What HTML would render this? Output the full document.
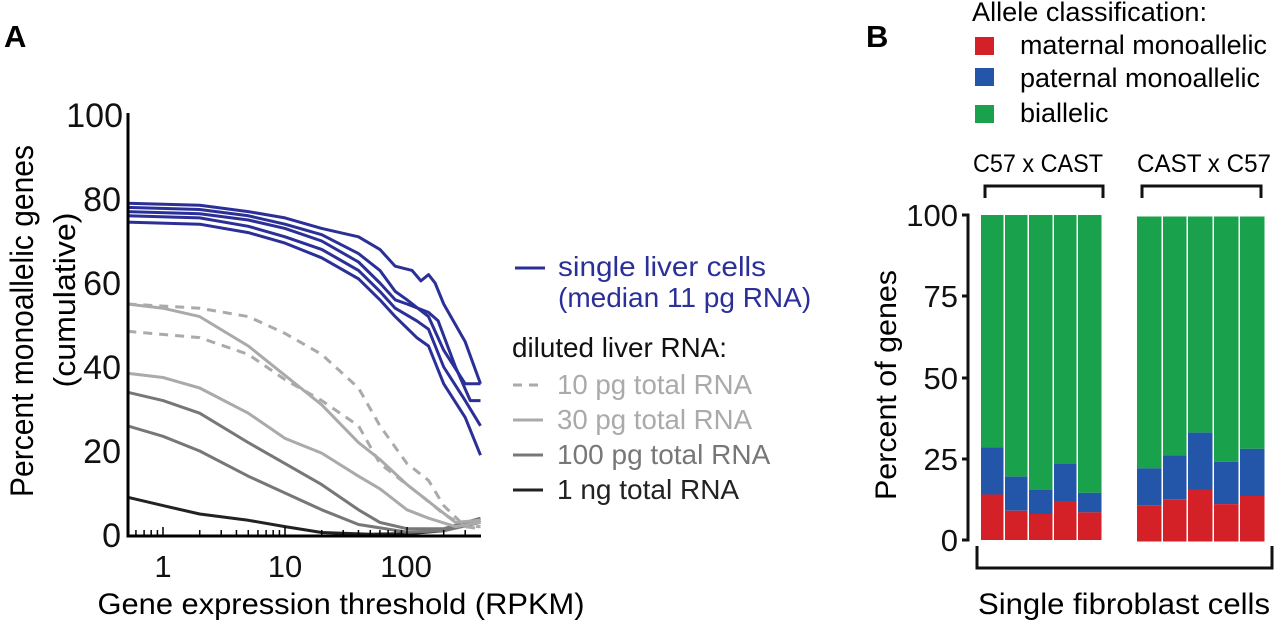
<!DOCTYPE html>
<html><head><meta charset="utf-8"><style>
html,body{margin:0;padding:0;background:#fff;}
svg{display:block;font-family:"Liberation Sans",Arial,sans-serif;}
</style></head><body>
<svg id="s" width="1280" height="620" viewBox="0 0 1280 620" xmlns="http://www.w3.org/2000/svg">
<text x="4" y="47" font-size="31" font-weight="bold">A</text>
<text x="866" y="47" font-size="31" font-weight="bold">B</text>
<g id="plotA"></g>
<line x1="128" y1="113" x2="128" y2="537" stroke="#000" stroke-width="3"/>
<line x1="126.5" y1="536" x2="481" y2="536" stroke="#000" stroke-width="3"/>
<g font-size="34" text-anchor="end" fill="#111">
<text x="121" y="547">0</text><text x="121" y="463">20</text><text x="121" y="379">40</text>
<text x="121" y="295">60</text><text x="121" y="211">80</text><text x="123" y="127">100</text>
</g>
<g font-size="31" text-anchor="middle" fill="#111">
<text x="163" y="577">1</text><text x="285" y="577">10</text><text x="406" y="577">100</text>
</g>
<text x="341" y="614" font-size="30" text-anchor="middle" textLength="487" lengthAdjust="spacingAndGlyphs">Gene expression threshold (RPKM)</text>
<text transform="translate(33,321) rotate(-90)" font-size="32" text-anchor="middle" textLength="352" lengthAdjust="spacingAndGlyphs">Percent monoallelic genes</text>
<text transform="translate(75,300) rotate(-90)" font-size="31" text-anchor="middle" textLength="175" lengthAdjust="spacingAndGlyphs">(cumulative)</text>
<line x1="515" y1="268" x2="545" y2="268" stroke="#2b2f98" stroke-width="3"/>
<text x="558" y="276" font-size="28" fill="#2b2f98" textLength="208" lengthAdjust="spacingAndGlyphs">single liver cells</text>
<text x="558" y="307" font-size="28" fill="#2b2f98">(median 11 pg RNA)</text>
<text x="512" y="357" font-size="28" fill="#111" textLength="215" lengthAdjust="spacingAndGlyphs">diluted liver RNA:</text>
<line x1="513" y1="385" x2="543" y2="385" stroke="#aaa" stroke-width="3" stroke-dasharray="9,7"/>
<text x="557" y="394" font-size="28" fill="#aaa" textLength="195" lengthAdjust="spacingAndGlyphs">10 pg total RNA</text>
<line x1="513" y1="420" x2="543" y2="420" stroke="#aaa" stroke-width="3"/>
<text x="557" y="429" font-size="28" fill="#aaa" textLength="195" lengthAdjust="spacingAndGlyphs">30 pg total RNA</text>
<line x1="513" y1="455" x2="543" y2="455" stroke="#777" stroke-width="3"/>
<text x="557" y="464" font-size="28" fill="#777">100 pg total RNA</text>
<line x1="513" y1="490" x2="543" y2="490" stroke="#222" stroke-width="3"/>
<text x="557" y="499" font-size="28" fill="#222">1 ng total RNA</text>
<text x="972" y="21" font-size="27" textLength="235" lengthAdjust="spacingAndGlyphs">Allele classification:</text>
<rect x="975" y="37" width="19" height="18" fill="#d42027"/>
<rect x="975" y="68" width="19" height="18" fill="#2356a8"/>
<rect x="975" y="105" width="19" height="18" fill="#1aa14b"/>
<text x="1020" y="54" font-size="27" textLength="247" lengthAdjust="spacingAndGlyphs">maternal monoallelic</text>
<text x="1020" y="87" font-size="27" textLength="240" lengthAdjust="spacingAndGlyphs">paternal monoallelic</text>
<text x="1020" y="122" font-size="27">biallelic</text>
<text x="973" y="172" font-size="25" textLength="130" lengthAdjust="spacingAndGlyphs">C57 x CAST</text>
<text x="1137" y="172" font-size="25" textLength="134" lengthAdjust="spacingAndGlyphs">CAST x C57</text>
<path d="M985 198 V186 H1103 V198 M1142 198 V186 H1261 V198" fill="none" stroke="#111" stroke-width="3"/>
<g id="bars"></g>
<path d="M962 215 H968 V540 H962 M968 296 H962 M968 378 H962 M968 459 H962" fill="none" stroke="#111" stroke-width="3"/>
<g font-size="31" text-anchor="end" fill="#111">
<text x="958" y="226">100</text><text x="958" y="307">75</text><text x="958" y="389">50</text>
<text x="958" y="470">25</text><text x="958" y="551">0</text>
</g>
<text transform="translate(896,385) rotate(-90)" font-size="30" text-anchor="middle" textLength="230" lengthAdjust="spacingAndGlyphs">Percent of genes</text>
<path d="M977 546 V568 H1272 V546" fill="none" stroke="#111" stroke-width="3"/>
<text x="1124" y="614" font-size="30" text-anchor="middle" textLength="292" lengthAdjust="spacingAndGlyphs">Single fibroblast cells</text>
</svg>
<script>
var NS="http://www.w3.org/2000/svg";
function X(r){return 163+122*Math.log10(r);}
function Y(v){return 535-v*4.2;}
var g=document.getElementById("plotA");
function line(pts,col,dash){
 var p=document.createElementNS(NS,"path");
 p.setAttribute("d",pts.map(function(q,i){return (i?"L":"M")+X(q[0]).toFixed(1)+" "+Y(q[1]).toFixed(1);}).join(" "));
 p.setAttribute("fill","none");p.setAttribute("stroke",col);p.setAttribute("stroke-width","3");
 p.setAttribute("stroke-linejoin","round");
 if(dash)p.setAttribute("stroke-dasharray","9,7");
 g.appendChild(p);
}
var R0=0.51,R1=400;
line([[R0,9],[1,7],[2,5],[5,3.5],[10,2],[20,0.6],[50,0.2],[100,0.3],[200,1],[R1,3.5]],"#222");
line([[R0,34],[1,32],[2,29],[5,22],[10,17],[20,12],[40,6],[60,3],[100,1.5],[200,1.5],[R1,4]],"#777");
line([[R0,26],[1,23.5],[2,20],[5,14],[10,10],[20,6],[40,2.5],[100,0.7],[200,1],[R1,3]],"#777");
line([[R0,55],[1,54],[2,52],[5,45],[10,38],[20,31],[40,22],[60,18],[100,12],[150,8],[250,3],[R1,3.5]],"#aaa");
line([[R0,38.5],[1,37.5],[2,35],[5,29],[10,23],[20,19.5],[40,14],[60,11],[100,6],[150,4],[250,2],[R1,3]],"#aaa");
line([[R0,55],[2,54],[5,52],[10,48],[20,43],[40,35],[60,26],[100,17],[150,13],[200,7],[300,2],[R1,1.5]],"#aaa",1);
line([[R0,48.5],[2,47],[5,43],[10,37],[20,32],[40,26],[60,17],[100,12],[150,8],[200,5],[300,2],[R1,2]],"#aaa",1);
var B="#2b2f98";
line([[R0,79],[2,78.5],[5,77],[10,75.5],[20,73],[40,71],[60,68],[80,64],[110,63],[130,60.5],[150,62],[170,60],[200,55],[300,46],[R1,36]],B);
line([[R0,78],[2,77.5],[5,76],[10,74],[20,71.5],[40,67],[60,63],[80,58],[100,56],[150,52],[200,44],[300,36],[R1,36]],B);
line([[R0,77],[2,76.5],[5,75],[10,73],[20,70],[40,65],[60,60],[80,56],[100,55],[150,53],[180,51],[250,40],[330,32],[R1,32]],B);
line([[R0,76],[2,75.5],[5,73.5],[10,71],[20,68],[40,63],[60,58],[80,54],[120,51],[150,49],[200,40],[300,32],[R1,26]],B);
line([[R0,74.5],[2,74],[5,72],[10,69.5],[20,66],[40,61],[60,56],[80,52],[120,47],[150,45],[200,36],[300,28],[R1,19]],B);
var t="";[0.6,0.7,0.8,0.9,2,3,4,5,6,7,8,9,20,30,40,50,60,70,80,90,200,300].forEach(function(r){var x=X(r);t+="M"+x+" 535 V530 ";});
[1,10,100].forEach(function(r){var x=X(r);t+="M"+x+" 535 V527 ";});
var tp=document.createElementNS(NS,"path");tp.setAttribute("d",t);tp.setAttribute("stroke","#000");tp.setAttribute("stroke-width","1.5");g.appendChild(tp);
var bg=document.getElementById("bars");
function YB(v){return 540-v*3.25;}
var xs1=[981,1005,1029,1054,1078,1103],xs2=[1137,1163,1188,1214,1240,1266];
var red1=[14,9,8,12,8.5],blu1=[28.5,19.5,15.5,23.5,14.5];
var red2=[11,13,16,11.5,14],blu2=[22.5,26.5,33.5,24.5,28.5];
function rect(x,y,w,h,c){var r=document.createElementNS(NS,"rect");r.setAttribute("x",x);r.setAttribute("y",y);r.setAttribute("width",w);r.setAttribute("height",h);r.setAttribute("fill",c);bg.appendChild(r);}
function grp(xs,red,blu,off){for(var i=0;i<5;i++){var x=xs[i],w=xs[i+1]-xs[i]-1.5;
 rect(x,YB(100)+off,w,YB(blu[i])-YB(100),"#1aa14b");
 rect(x,YB(blu[i])+off,w,YB(red[i])-YB(blu[i]),"#2356a8");
 rect(x,YB(red[i])+off,w,YB(0)-YB(red[i]),"#d42027");}}
grp(xs1,red1,blu1,0);grp(xs2,red2,blu2,1.5);
</script>
</body></html>
